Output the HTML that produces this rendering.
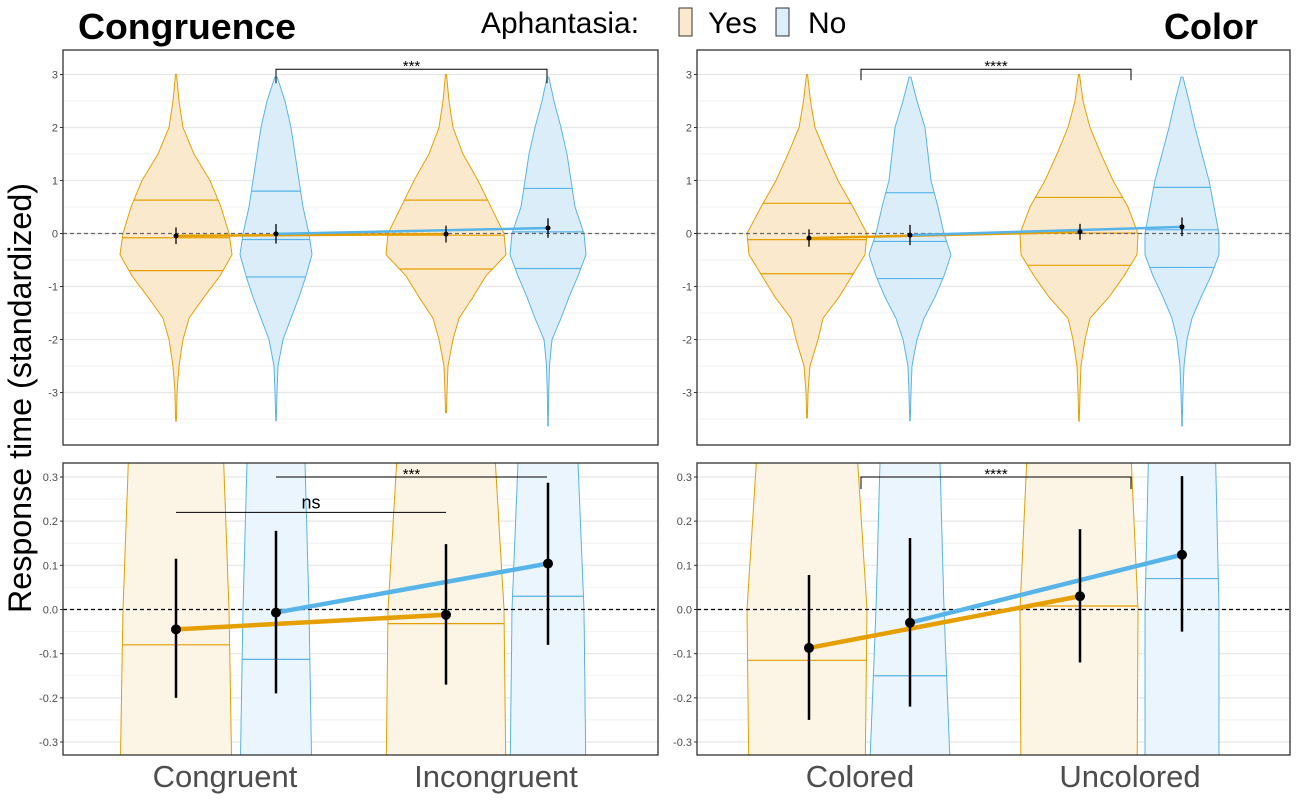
<!DOCTYPE html>
<html><head><meta charset="utf-8">
<style>
html,body{margin:0;padding:0;background:#fff;width:1300px;height:800px;overflow:hidden;}
svg{display:block;font-family:"Liberation Sans",sans-serif;}
</style></head>
<body>
<svg id="fig" width="1300" height="800" viewBox="0 0 1300 800" xmlns="http://www.w3.org/2000/svg">
<rect x="0" y="0" width="1300" height="800" fill="#fff"/>
<text x="78" y="39" font-size="36" font-weight="bold" textLength="218" lengthAdjust="spacingAndGlyphs">Congruence</text>
<text x="1258" y="39" font-size="36" font-weight="bold" text-anchor="end">Color</text>
<g>
<text x="481" y="33" font-size="30" textLength="158" lengthAdjust="spacingAndGlyphs">Aphantasia:</text>
<g>
<rect x="679" y="8" width="13" height="28" fill="#fbe9cc" stroke="#333" stroke-width="1"/>
<text x="708" y="33" font-size="30">Yes</text></g>
<g>
<rect x="776" y="8" width="13" height="28" fill="#dbeefa" stroke="#333" stroke-width="1"/>
<text x="808" y="33" font-size="30">No</text></g>
</g>
<text transform="translate(31,398) rotate(-90)" font-size="32" text-anchor="middle" textLength="430" lengthAdjust="spacingAndGlyphs">Response time (standardized)</text>
<text x="225" y="787" font-size="31" fill="#4d4d4d" text-anchor="middle">Congruent</text>
<text x="496" y="787" font-size="31" fill="#4d4d4d" text-anchor="middle">Incongruent</text>
<text x="860" y="787" font-size="31" fill="#4d4d4d" text-anchor="middle">Colored</text>
<text x="1130" y="787" font-size="31" fill="#4d4d4d" text-anchor="middle">Uncolored</text>
</svg>
<script>
// ---- data ----
const densityLevels = [3, 2.5, 2, 1.5, 1, 0.5, 0, -0.4, -0.8, -1.2, -1.6, -2, -2.5, -3, -3.5];
const widthCongYes   = [0.5,3,7,18,34,45,53,56,44,28,13,7,3,1,0.5];
const widthCongNo    = [0.3,9,15,19,23,27,33,36,30,23,15,7,2,1,0.3];
const widthIncongYes = [0.5,3,7,17,32,45,58,60,40,27,13,7,2,1,0.3];
const widthIncongNo  = [0.3,6,13,19,23,27,36,38,30,21,13,4,1.5,0.7,0.3];
const widthColYes    = [0.5,3.5,8,19,31,46,60,58,45,32,16,11,3,1,0.3];
const widthColNo     = [0.3,7,15,18,21,28,34,41,34,25,14,7,2,1,0.3];
const widthUncolYes  = [0.5,4,11,22,34,49,59,58,45,30,11,6,2,1,0.3];
const widthUncolNo   = [0.3,7,13,20,27,32,37,37,29,19,10,5,2,1,0.3];
const violinTops     = [3.0, 2.95, 3.0, 2.95];
const violinBottomsL = [-3.55, -3.55, -3.4, -3.65];
const violinBottomsR = [-3.5, -3.55, -3.55, -3.65];
const quartilesCong   = [[0.63,-0.08,-0.7],[0.8,-0.113,-0.82],[0.63,-0.032,-0.67],[0.85,0.03,-0.66]];
const quartilesColor  = [[0.57,-0.115,-0.76],[0.77,-0.15,-0.85],[0.68,0.008,-0.6],[0.87,0.07,-0.64]];
const meansCong  = [-0.045, -0.007, -0.012, 0.104];
const lowCong    = [-0.2, -0.19, -0.17, -0.08];
const highCong   = [0.115, 0.178, 0.148, 0.287];
const meansColor = [-0.087, -0.03, 0.03, 0.124];
const lowColor   = [-0.25, -0.22, -0.12, -0.05];
const highColor  = [0.078, 0.162, 0.182, 0.302];
const topTicks = [3,2,1,0,-1,-2,-3];
const topMinor = [2.5,1.5,0.5,-0.5,-1.5,-2.5,-3.5];
const botTicks = [0.3,0.2,0.1,0.0,-0.1,-0.2,-0.3];
const botMinor = [0.25,0.15,0.05,-0.05,-0.15,-0.25];
const botTickLabels = ["0.3","0.2","0.1","0.0","-0.1","-0.2","-0.3"];

const NS = "http://www.w3.org/2000/svg";
const svg = document.getElementById('fig');
const ORANGE = "#E69F00", BLUE = "#56B4E9";
function el(tag, attrs, parent){ const e=document.createElementNS(NS,tag); for(const k in attrs) e.setAttribute(k,attrs[k]); (parent||svg).appendChild(e); return e; }

function interpW(widths, v){
  for(let i=0;i<densityLevels.length-1;i++){
    const a=densityLevels[i], b=densityLevels[i+1];
    if(v<=a && v>=b){ const t=(a-v)/(a-b); return widths[i]+(widths[i+1]-widths[i])*t; }
  }
  return 0.3;
}

function panel(cfg){
  const g = el('g',{});
  
  
  const yS = v => cfg.y0 - v*cfg.ppu;
  const clipId = cfg.name+'-clip';
  const cp = el('clipPath',{id:clipId}, g);
  el('rect',{x:cfg.x0,y:cfg.top,width:cfg.x1-cfg.x0,height:cfg.bottom-cfg.top}, cp);
  cfg.minor.forEach(v=>{ const y=yS(v); if(y>cfg.top&&y<cfg.bottom) el('line',{x1:cfg.x0,x2:cfg.x1,y1:y,y2:y,stroke:"#f2f2f2","stroke-width":1},g); });
  cfg.ticks.forEach((v,i)=>{ const y=yS(v);
    const gl=el('line',{x1:cfg.x0,x2:cfg.x1,y1:y,y2:y,stroke:"#e6e6e6","stroke-width":1.2},g);
    
    
    el('line',{x1:cfg.x0-3,x2:cfg.x0,y1:y,y2:y,stroke:"#333","stroke-width":1},g);
    const t=el('text',{x:cfg.x0-5,y:y+4,"font-size":11,fill:"#4d4d4d","text-anchor":"end"},g);
    
    
    t.textContent=cfg.tickLabels[i];
  });
  const vg = el('g',{'clip-path':'url(#'+clipId+')'},g);
  cfg.centers.forEach((cx,i)=>{
    const col = i%2===0?ORANGE:BLUE;
    const fill = i%2===0?cfg.fillY:cfg.fillN;
    const w = cfg.widths[i];
    const top=cfg.tops[i], bot=cfg.bots[i];
    let L=[],R=[];
    for(let v=top; v>=bot; v-=0.02){ const hw=interpW(w,v)*cfg.wScale; L.push([cx-hw,yS(v)]); R.push([cx+hw,yS(v)]); }
    const pts = L.concat(R.reverse()).map(p=>p[0].toFixed(1)+','+p[1].toFixed(1)).join(' ');
    const p=el('polygon',{points:pts,fill:fill,stroke:col,"stroke-width":1},vg);
    
    
    cfg.quart[i].forEach(q=>{ const hw=interpW(w,q)*cfg.wScale;
      const ql=el('line',{x1:cx-hw,x2:cx+hw,y1:yS(q),y2:yS(q),stroke:col,"stroke-width":1.2},vg);
      
      
    });
  });
  el('line',{x1:cfg.x0,x2:cfg.x1,y1:yS(0),y2:yS(0),stroke:cfg.zeroCol,"stroke-width":1.2,"stroke-dasharray":"4,3"},vg);
  [[0,2,ORANGE],[1,3,BLUE]].forEach(([a,b,c])=>{
    const ln=el('line',{x1:cfg.mx[a],y1:yS(cfg.means[a]),x2:cfg.mx[b],y2:yS(cfg.means[b]),stroke:c,"stroke-width":cfg.lw},vg);
    
    
  });
  cfg.mx.forEach((x,i)=>{
    const e=el('line',{x1:x,x2:x,y1:yS(cfg.low[i]),y2:yS(cfg.high[i]),stroke:"#000","stroke-width":cfg.ew},vg);
    
    
    const c=el('circle',{cx:x,cy:yS(cfg.means[i]),r:cfg.pr,fill:"#000"},vg);
    
    
  });
  cfg.brackets.forEach(b=>{
    const by=yS(b.v);
    const bp=el('path',{d:`M${b.x1},${by+b.drop}V${by}H${b.x2}V${by+b.drop}`,fill:"none",stroke:"#000","stroke-width":1},g);
    
    
    const t=el('text',{x:(b.x1+b.x2)/2,y:by-b.ty,"font-size":b.fs,"text-anchor":"middle"},g);
    
    
    t.textContent=b.label;
  });
  el('rect',{x:cfg.x0,y:cfg.top,width:cfg.x1-cfg.x0,height:cfg.bottom-cfg.top,fill:"none",stroke:"#333","stroke-width":1.3},g);
}

const topLabels = topTicks.map(String);
const congCenters=[176,276,446,548], colCenters=[807,910,1079,1182];
const congMx=[176,276,446,548], colMx=[809,910,1080,1182];

panel({name:'top-left-panel',x0:63,x1:658,top:50,bottom:445,y0:233.5,ppu:53,ticks:topTicks,minor:topMinor,tickLabels:topLabels,
  centers:congCenters,widths:[widthCongYes,widthCongNo,widthIncongYes,widthIncongNo],tops:violinTops,bots:violinBottomsL,
  quart:quartilesCong,cats:['congruent-yes','congruent-no','incongruent-yes','incongruent-no'],wScale:1,fillY:"#fae9cc",fillN:"#dbedf9",zeroCol:"#666",
  mx:congMx,means:meansCong,low:lowCong,high:highCong,lw:2.5,ew:1.3,pr:2.5,
  brackets:[{x1:276,x2:547,v:3.1,drop:14,label:"***",fs:15,ty:-2}]});
panel({name:'top-right-panel',x0:697,x1:1290,top:50,bottom:445,y0:233.5,ppu:53,ticks:topTicks,minor:topMinor,tickLabels:topLabels,
  centers:colCenters,widths:[widthColYes,widthColNo,widthUncolYes,widthUncolNo],tops:violinTops,bots:violinBottomsR,
  quart:quartilesColor,cats:['colored-yes','colored-no','uncolored-yes','uncolored-no'],wScale:1,fillY:"#fae9cc",fillN:"#dbedf9",zeroCol:"#666",
  mx:colMx,means:meansColor,low:lowColor,high:highColor,lw:2.5,ew:1.3,pr:2.5,
  brackets:[{x1:861,x2:1131,v:3.1,drop:11,label:"****",fs:15,ty:-2}]});
panel({name:'bottom-left-panel',x0:63,x1:658,top:463,bottom:755,y0:609.5,ppu:441.7,ticks:botTicks,minor:botMinor,tickLabels:botTickLabels,
  centers:congCenters,widths:[widthCongYes,widthCongNo,widthIncongYes,widthIncongNo],tops:violinTops,bots:violinBottomsL,
  quart:quartilesCong,cats:['congruent-yes','congruent-no','incongruent-yes','incongruent-no'],wScale:1,fillY:"#fcf4e5",fillN:"#ebf5fd",zeroCol:"#000",
  mx:congMx,means:meansCong,low:lowCong,high:highCong,lw:4.5,ew:2.5,pr:5,
  brackets:[{x1:276,x2:547,v:0.3,drop:0,label:"***",fs:15,ty:-2},{x1:176,x2:446,v:0.22,drop:0,label:"ns",fs:18,ty:4}]});
panel({name:'bottom-right-panel',x0:697,x1:1290,top:463,bottom:755,y0:609.5,ppu:441.7,ticks:botTicks,minor:botMinor,tickLabels:botTickLabels,
  centers:colCenters,widths:[widthColYes,widthColNo,widthUncolYes,widthUncolNo],tops:violinTops,bots:violinBottomsR,
  quart:quartilesColor,cats:['colored-yes','colored-no','uncolored-yes','uncolored-no'],wScale:1,fillY:"#fcf4e5",fillN:"#ebf5fd",zeroCol:"#000",
  mx:colMx,means:meansColor,low:lowColor,high:highColor,lw:4.5,ew:2.5,pr:5,
  brackets:[{x1:861,x2:1131,v:0.3,drop:12,label:"****",fs:15,ty:-2}]});
</script>
</body></html>
